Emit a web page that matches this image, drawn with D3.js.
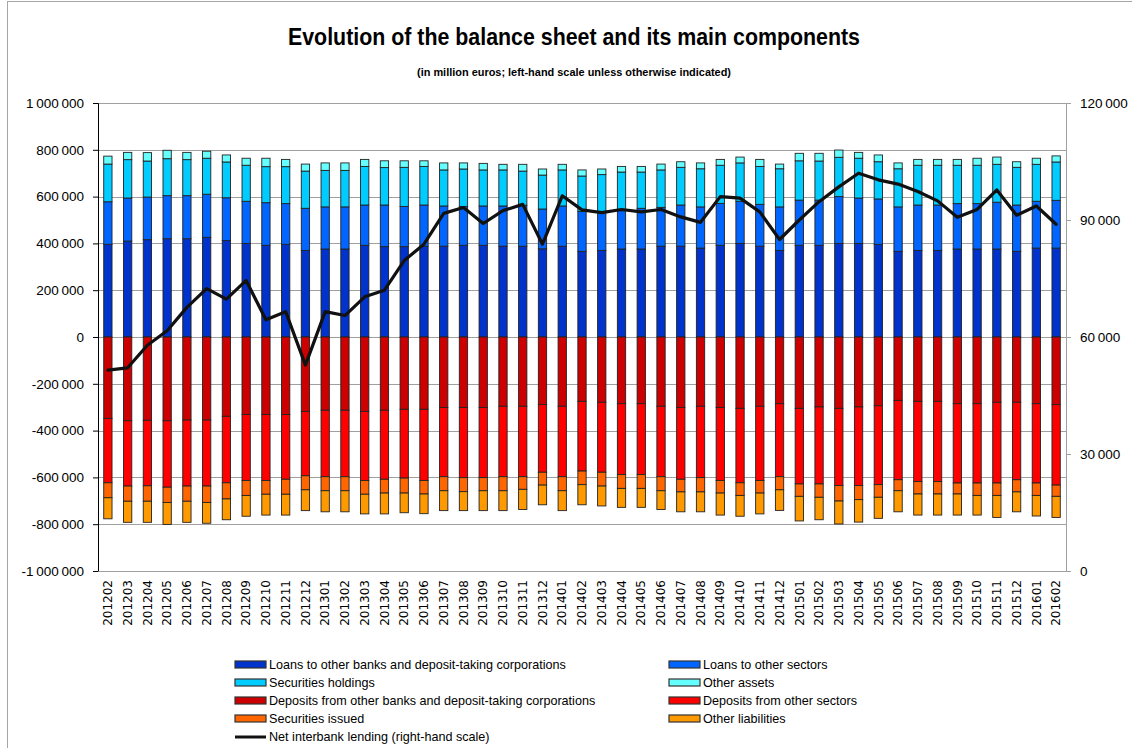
<!DOCTYPE html>
<html>
<head>
<meta charset="utf-8">
<script src="https://cdn.jsdelivr.net/npm/d3@7"></script>
<style>
  html, body { margin: 0; padding: 0; background: #fff; }
  svg { display: block; font-family: "Liberation Sans", Arial, sans-serif; }
</style>
</head>
<body>
<div id="chart"></div>
<script>
// months on the category axis
var months = ["201202","201203","201204","201205","201206","201207","201208","201209","201210","201211","201212",
  "201301","201302","201303","201304","201305","201306","201307","201308","201309","201310","201311","201312",
  "201401","201402","201403","201404","201405","201406","201407","201408","201409","201410","201411","201412",
  "201501","201502","201503","201504","201505","201506","201507","201508","201509","201510","201511","201512",
  "201601","201602"];

// assets (thousand million euros, stacked upward)
var loansBanks = [396,410,416,420,420,426,412,400,392,396,370,376,376,392,386,386,388,388,392,392,388,388,377,388,366,370,376,376,388,388,380,392,400,388,370,392,392,400,400,396,366,370,370,376,376,376,366,380,380];
var loansOther = [182,184,182,184,184,184,183,180,182,174,180,180,180,172,178,172,176,172,166,168,172,175,170,172,171,162,164,174,166,176,176,179,180,179,186,193,193,200,194,194,190,194,194,194,194,200,198,200,204];
var securitiesHold = [161,164,154,158,154,154,153,154,154,158,159,156,156,165,160,167,165,154,160,154,154,146,145,154,151,162,165,155,160,161,163,163,164,162,163,168,167,168,170,159,163,170,170,164,164,162,161,158,164];
var otherAssets = [34,31,36,36,31,30,30,30,36,31,30,32,32,30,29,28,24,30,26,28,24,29,26,24,26,24,24,24,25,24,25,25,25,30,20,32,33,31,25,29,25,25,25,25,30,31,24,26,26];

// liabilities (stacked downward)
var depositsBanks = [348,358,356,358,355,355,339,331,331,331,318,313,313,318,313,309,309,301,301,301,296,296,289,296,275,279,285,285,296,301,296,301,305,296,285,305,299,305,299,294,271,275,275,285,285,279,279,285,289];
var depositsOther = [275,279,280,284,282,282,284,282,282,277,275,284,284,295,295,294,304,296,300,300,301,301,289,301,298,299,303,303,301,307,305,312,318,317,312,323,329,330,336,337,339,343,343,339,339,345,331,339,344];
var securitiesIssued = [64,65,66,65,65,70,69,64,59,64,60,60,60,59,59,64,58,60,60,56,60,54,55,60,58,59,59,59,60,54,61,54,54,54,56,53,57,66,60,54,47,53,53,47,53,53,52,53,48];
var otherLiab = [90,90,90,94,90,89,89,89,89,89,89,90,90,84,89,84,84,85,81,85,85,86,84,85,86,85,81,81,80,85,85,94,89,89,88,105,96,98,96,90,90,90,90,90,84,94,85,88,90];

// net interbank lending (thousand million euros, right-hand scale)
var netInterbank = [51.5,52.1,57.9,61.6,67.6,72.4,69.7,74.5,64.4,66.5,52.8,66.5,65.5,70.3,72.0,79.6,83.8,91.7,93.2,89.1,92.4,94.0,83.8,96.2,92.6,91.9,92.7,92.1,92.7,90.8,89.4,96.0,95.6,92.1,85.0,90.0,94.7,98.5,102.0,100.3,99.2,97.3,94.9,90.7,92.7,97.7,91.2,93.6,88.9];

var leftTicks = [-1000000,-800000,-600000,-400000,-200000,0,200000,400000,600000,800000,1000000];
var rightTicks = [0,30000,60000,90000,120000];

var assetSeries = [
  {name: "Loans to other banks and deposit-taking  corporations", values: loansBanks, color: "#0033CC"},
  {name: "Loans to other sectors", values: loansOther, color: "#0066FF"},
  {name: "Securities holdings", values: securitiesHold, color: "#00CCFF"},
  {name: "Other assets", values: otherAssets, color: "#66FFFF"}
];
var liabSeries = [
  {name: "Deposits from other banks and deposit-taking corporations", values: depositsBanks, color: "#CC0000"},
  {name: "Deposits from other sectors", values: depositsOther, color: "#FF0000"},
  {name: "Securities issued", values: securitiesIssued, color: "#FF6600"},
  {name: "Other liabilities", values: otherLiab, color: "#FF9900"}
];

var W = 1132, H = 748;
var box = {x1: 98, x2: 1066, y1: 103, y2: 571};

var locale = d3.formatLocale({decimal: ",", thousands: "\u2009", grouping: [3], currency: ["", "€"], minus: "-"});
var fmt = locale.format(",");

var svg = d3.select("#chart").append("svg")
  .attr("width", W).attr("height", H)
  .attr("viewBox", "0 0 " + W + " " + H);

svg.append("rect").attr("x", 7.5).attr("y", 1.5).attr("width", W).attr("height", H)
  .attr("fill", "#fff").attr("stroke", "#a6a6a6").attr("stroke-width", 1);

// titles
svg.append("text").attr("x", 574).attr("y", 45).attr("text-anchor", "middle")
  .attr("font-size", 23).attr("font-weight", "bold").attr("fill", "#000")
  .attr("textLength", 572).attr("lengthAdjust", "spacingAndGlyphs")
  .text("Evolution of the balance sheet and its main components");
svg.append("text").attr("x", 574).attr("y", 76).attr("text-anchor", "middle")
  .attr("font-size", 10.5).attr("font-weight", "bold").attr("fill", "#000")
  .attr("textLength", 314).attr("lengthAdjust", "spacingAndGlyphs")
  .text("(in million euros; left-hand scale unless otherwise indicated)");

var x = d3.scaleBand().domain(months).range([box.x1, box.x2]).paddingInner(0.58).paddingOuter(0.29);
var y = d3.scaleLinear().domain([-1000000, 1000000]).range([box.y2, box.y1]);
var y2 = d3.scaleLinear().domain([0, 120000]).range([box.y2, box.y1]);

// gridlines
svg.append("g").selectAll("line").data(leftTicks.filter(function(d){ return d > -1000000; }))
  .enter().append("line")
  .attr("x1", box.x1).attr("x2", box.x2)
  .attr("y1", function(d){ return Math.round(y(d)) + 0.5; })
  .attr("y2", function(d){ return Math.round(y(d)) + 0.5; })
  .attr("stroke", "#a0a0a0").attr("stroke-width", 1.2);

// stacked bars
function drawStack(series, sign){
  var base = months.map(function(){ return 0; });
  series.forEach(function(s){
    var g = svg.append("g");
    months.forEach(function(m, i){
      var v0 = base[i], v1 = base[i] + s.values[i] * 1000;
      base[i] = v1;
      var ya = y(sign * v0), yb = y(sign * v1);
      g.append("rect")
        .attr("x", x(m)).attr("width", x.bandwidth())
        .attr("y", Math.min(ya, yb)).attr("height", Math.abs(yb - ya))
        .attr("fill", s.color).attr("stroke", "#222").attr("stroke-width", 0.9);
    });
  });
}
drawStack(assetSeries, 1);
drawStack(liabSeries, -1);

// axes
var yAxisL = d3.axisLeft(y).tickValues(leftTicks).tickFormat(fmt).tickSize(5).tickPadding(9);
var gL = svg.append("g").attr("transform", "translate(" + box.x1 + ",0)").call(yAxisL);
gL.select(".domain").attr("stroke", "#000");
gL.selectAll(".tick line").attr("stroke", "#000");
gL.selectAll("text").attr("font-size", 13.5).attr("fill", "#000").attr("font-family", "Liberation Sans, Arial, sans-serif");

var yAxisR = d3.axisRight(y2).tickValues(rightTicks).tickFormat(fmt).tickSize(5).tickPadding(9);
var gR = svg.append("g").attr("transform", "translate(" + box.x2 + ",0)").call(yAxisR);
gR.select(".domain").attr("stroke", "#a0a0a0");
gR.selectAll(".tick line").attr("stroke", "#a0a0a0");
gR.selectAll("text").attr("font-size", 13.5).attr("fill", "#000").attr("font-family", "Liberation Sans, Arial, sans-serif");

var xAxis = d3.axisBottom(x).tickSize(0).tickPadding(10);
var gX = svg.append("g").attr("transform", "translate(0," + box.y2 + ")").call(xAxis);
gX.select(".domain").attr("stroke", "#a0a0a0").attr("stroke-width", 1.2);
gX.selectAll("text")
  .attr("font-size", 12).attr("font-family", "DejaVu Sans, Verdana, sans-serif").attr("fill", "#000")
  .attr("text-anchor", "end").attr("dy", "0.35em")
  .attr("transform", "rotate(-90)")
  .attr("x", -9).attr("y", 0);

// net interbank lending line
var line = d3.line()
  .x(function(d, i){ return x(months[i]) + x.bandwidth() / 2; })
  .y(function(d){ return y2(d * 1000); });
svg.append("path").datum(netInterbank)
  .attr("d", line).attr("fill", "none")
  .attr("stroke", "#111").attr("stroke-width", 3.2)
  .attr("stroke-linejoin", "round").attr("stroke-linecap", "round");

// legend
var legendItems = [
  {s: assetSeries[0], col: 0, row: 0}, {s: assetSeries[1], col: 1, row: 0},
  {s: assetSeries[2], col: 0, row: 1}, {s: assetSeries[3], col: 1, row: 1},
  {s: liabSeries[0], col: 0, row: 2}, {s: liabSeries[1], col: 1, row: 2},
  {s: liabSeries[2], col: 0, row: 3}, {s: liabSeries[3], col: 1, row: 3}
];
var legX = [235, 669], legY0 = 665, legDy = 18;
var leg = svg.append("g").attr("font-size", 12.6).attr("fill", "#000");
legendItems.forEach(function(it){
  var lx = legX[it.col], ly = legY0 + it.row * legDy;
  leg.append("rect").attr("x", lx).attr("y", ly - 4).attr("width", 31).attr("height", 7)
    .attr("fill", it.s.color).attr("stroke", "#333").attr("stroke-width", 1.2);
  leg.append("text").attr("x", lx + 34).attr("y", ly).attr("dy", "0.35em").text(it.s.name.replace("  ", " "));
});
var ly5 = legY0 + 4 * legDy;
leg.append("line").attr("x1", 235).attr("x2", 266).attr("y1", ly5).attr("y2", ly5)
  .attr("stroke", "#111").attr("stroke-width", 3);
leg.append("text").attr("x", 269).attr("y", ly5).attr("dy", "0.35em").text("Net interbank lending (right-hand scale)");
</script>
</body>
</html>
